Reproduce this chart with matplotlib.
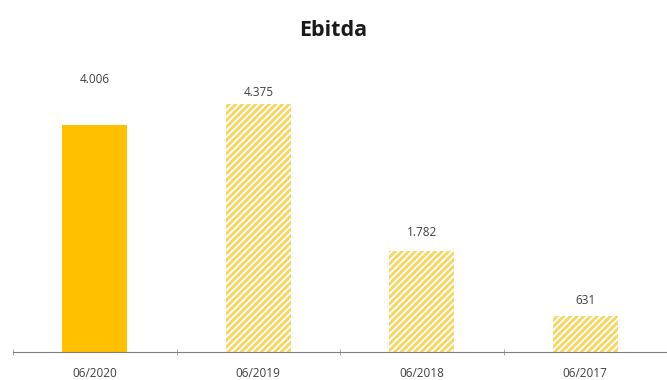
import matplotlib.pyplot as plt
import numpy as np

plt.rcParams['font.family'] = ['Open Sans', 'DejaVu Sans']
plt.rcParams['hatch.linewidth'] = 2.0

periods = ['06/2020', '06/2019', '06/2018', '06/2017']
ebitda = [4006, 4375, 1782, 631]
labels = ['4.006', '4.375', '1.782', '631']
# label heights (data units) as they sit in the original chart
label_y = [4800, 4580, 2100, 900]

fig = plt.figure(figsize=(6.67, 3.8), dpi=100)
ax = fig.add_axes([13 / 667, 28 / 380, 654 / 667, 312 / 380])

x = np.arange(len(periods))
ax.bar(x[0], ebitda[0], width=0.4, color='#FFC000', linewidth=0)
ax.bar(x[1:], ebitda[1:], width=0.4, facecolor='white', edgecolor='#F8D55E',
       hatch='/////', linewidth=0)

for xi, lab, ly in zip(x, labels, label_y):
    ax.text(xi, ly, lab, ha='center', va='center', fontsize=8.5, color='#404040')

ax.set_xlim(-0.5, 3.5)
ax.set_ylim(0, 5500)
ax.set_xticks(x)
ax.set_xticklabels(periods, fontsize=8.5, color='#404040')
ax.set_xticks(np.arange(-0.5, 4, 1), minor=True)
ax.tick_params(axis='x', which='major', length=0, pad=11)
ax.tick_params(axis='x', which='minor', length=4, direction='inout', color='#999999')
ax.set_yticks([])
for s in ['top', 'right', 'left']:
    ax.spines[s].set_visible(False)
ax.spines['bottom'].set_color('#808080')

fig.text(0.5, 1 - 30 / 380, 'Ebitda', ha='center', va='center', fontsize=15.5,
         fontweight='bold', color='#1a1a1a')

fig.savefig('out.png', dpi=100)
